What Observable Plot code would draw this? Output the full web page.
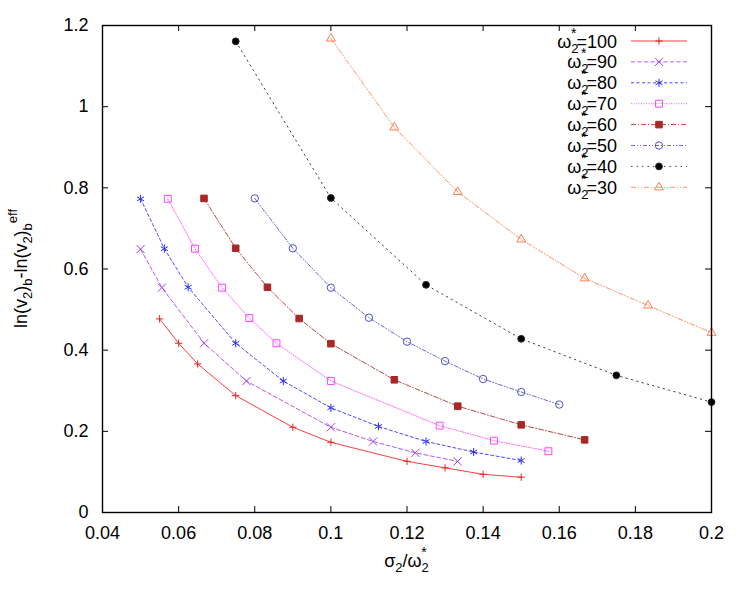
<!DOCTYPE html>
<html>
<head>
<meta charset="utf-8">
<script src="https://cdn.jsdelivr.net/npm/d3@7"></script>
<script src="https://cdn.jsdelivr.net/npm/@observablehq/plot@0.6"></script>
<style>
  html, body { margin: 0; padding: 0; background: #fff; }
  #chart { width: 750px; height: 600px; }
</style>
</head>
<body>
<div id="chart"></div>
<script>
// ---- tick values and labels ----
const xTicks = [0.04, 0.06, 0.08, 0.1, 0.12, 0.14, 0.16, 0.18, 0.2];
const xTickLabels = ["0.04", "0.06", "0.08", "0.1", "0.12", "0.14", "0.16", "0.18", "0.2"];
const yTicks = [0, 0.2, 0.4, 0.6, 0.8, 1, 1.2];
const yTickLabels = ["0", "0.2", "0.4", "0.6", "0.8", "1", "1.2"];

// ---- series (omega_2^* values) ----
const omegas = [100, 90, 80, 70, 60, 50, 40, 30];

const x100 = [0.055, 0.06, 0.065, 0.075, 0.09, 0.1, 0.12, 0.13, 0.14, 0.15];
const y100 = [0.477, 0.417, 0.366, 0.288, 0.210, 0.173, 0.126, 0.110, 0.094, 0.087];

const x90 = [0.05, 0.0556, 0.0667, 0.0778, 0.1, 0.1111, 0.1222, 0.1333];
const y90 = [0.649, 0.554, 0.417, 0.324, 0.210, 0.175, 0.147, 0.126];

const x80 = [0.05, 0.05625, 0.0625, 0.075, 0.0875, 0.1, 0.1125, 0.125, 0.1375, 0.15];
const y80 = [0.773, 0.650, 0.555, 0.417, 0.324, 0.258, 0.212, 0.175, 0.149, 0.128];

const x70 = [0.05714, 0.06429, 0.07143, 0.07857, 0.08571, 0.1, 0.12857, 0.14286, 0.15714];
const y70 = [0.773, 0.650, 0.554, 0.479, 0.417, 0.324, 0.214, 0.177, 0.151];

const x60 = [0.06667, 0.075, 0.08333, 0.09167, 0.1, 0.11667, 0.13333, 0.15, 0.16667];
const y60 = [0.774, 0.651, 0.555, 0.478, 0.416, 0.327, 0.262, 0.216, 0.179];

const x50 = [0.08, 0.09, 0.1, 0.11, 0.12, 0.13, 0.14, 0.15, 0.16];
const y50 = [0.774, 0.651, 0.554, 0.480, 0.421, 0.373, 0.329, 0.297, 0.266];

const x40 = [0.075, 0.1, 0.125, 0.15, 0.175, 0.2];
const y40 = [1.161, 0.775, 0.561, 0.428, 0.338, 0.272];

const x30 = [0.1, 0.11667, 0.13333, 0.15, 0.16667, 0.18333, 0.2];
const y30 = [1.168, 0.949, 0.790, 0.673, 0.577, 0.510, 0.443];

const seriesX = [x100, x90, x80, x70, x60, x50, x40, x30];
const seriesY = [y100, y90, y80, y70, y60, y50, y40, y30];

// ---- styles (kept apart from the data) ----
const styles = [
  {color: "#f02020", dash: null,            symbol: "plus",     r: 2.5, fill: "none"},
  {color: "#a23cf0", dash: "4,2.5",         symbol: "times",    r: 3.8, fill: "none"},
  {color: "#2a2aff", dash: "3,2.5",         symbol: "asterisk", r: 3.8, fill: "none"},
  {color: "#ff44ff", dash: "1,1.5",         symbol: "square",   r: 3.9, fill: "none"},
  {color: "#a82828", dash: "5,2,1,2",       symbol: "square",   r: 3.7, fill: "#a82828"},
  {color: "#5050c8", dash: "4,2,1,2,1,2",   symbol: "circle",   r: 3.7, fill: "none"},
  {color: "#222222", dash: "1.5,4",         symbol: "circle",   r: 3.4, fill: "#000"},
  {color: "#ff7f50", dash: "5,2,1,2,1,2",   symbol: "triangle", r: 3.3, fill: "none"}
];

const rows = omegas.map((w, s) => seriesX[s].map((x, i) => ({omega: w, s, x, y: seriesY[s][i]})));

const fmt = (ticks, labels) => d => labels[ticks.findIndex(t => Math.abs(t - d) < 1e-9)];

const W = 750, H = 600, mL = 102, mR = 39, mT = 25, mB = 88;
const fw = W - mL - mR, fh = H - mT - mB, tl = 6;

const lineMarks = rows.map((data, s) => Plot.line(data, {
  x: "x", y: "y", stroke: styles[s].color, strokeWidth: 1,
  strokeDasharray: styles[s].dash, strokeOpacity: 0.85
}));
const dotMarks = rows.map((data, s) => Plot.dot(data, {
  x: "x", y: "y", symbol: () => styles[s].symbol, r: styles[s].r,
  stroke: styles[s].color, fill: styles[s].fill, strokeWidth: 1
}));

const plot = Plot.plot({
  width: W, height: H,
  marginLeft: mL, marginRight: mR, marginTop: mT, marginBottom: mB,
  x: {domain: [0.04, 0.2]},
  y: {domain: [0, 1.2]},
  style: {fontFamily: "'Liberation Sans', Arial, sans-serif", fontSize: "18px", background: "#fff", color: "#000"},
  marks: [
    Plot.axisX({ticks: xTicks, tickFormat: fmt(xTicks, xTickLabels), tickSize: 0, tickPadding: 14, label: null, fontSize: 18}),
    Plot.axisY({ticks: yTicks, tickFormat: fmt(yTicks, yTickLabels), tickSize: 0, tickPadding: 14, label: null, fontSize: 18}),
    Plot.tickX(xTicks, {x: d => d, insetTop: fh - tl, stroke: "#000"}),
    Plot.tickX(xTicks, {x: d => d, insetBottom: fh - tl, stroke: "#000"}),
    Plot.tickY(yTicks, {y: d => d, insetRight: fw - tl, stroke: "#000"}),
    Plot.tickY(yTicks, {y: d => d, insetLeft: fw - tl, stroke: "#000"}),
    ...lineMarks,
    ...dotMarks,
    Plot.frame({stroke: "#000", strokeWidth: 1.4})
  ]
});

document.getElementById("chart").appendChild(plot);

// ---- axis titles and legend drawn into the same SVG ----
const svg = d3.select(plot);
const symbolTypes = {plus: d3.symbolPlus, times: d3.symbolTimes, asterisk: d3.symbolAsterisk,
                     square: d3.symbolSquare, circle: d3.symbolCircle, triangle: d3.symbolTriangle};

// x title: sigma_2 / omega_2^*
const xt = svg.append("text").attr("x", mL + fw / 2).attr("y", 567)
  .attr("text-anchor", "middle").attr("font-size", 18);
xt.append("tspan").text("σ");
xt.append("tspan").attr("dy", 5).attr("font-size", 13).text("2");
xt.append("tspan").attr("dy", -5).text("/ω");
xt.append("tspan").attr("dy", 5).attr("font-size", 13).text("2");
xt.append("tspan").attr("dx", -7.5).attr("dy", -15).attr("font-size", 14).text("*");

// y title: ln(v_2)_b - ln(v_2)_b^eff
const yt = svg.append("text").attr("transform", `translate(27,${mT + fh / 2}) rotate(-90)`)
  .attr("text-anchor", "middle").attr("font-size", 18);
yt.append("tspan").text("ln(v");
yt.append("tspan").attr("dy", 5).attr("font-size", 13).text("2");
yt.append("tspan").attr("dy", -5).text(")");
yt.append("tspan").attr("dy", 5).attr("font-size", 13).text("b");
yt.append("tspan").attr("dy", -5).text("-ln(v");
yt.append("tspan").attr("dy", 5).attr("font-size", 13).text("2");
yt.append("tspan").attr("dy", -5).text(")");
yt.append("tspan").attr("dy", 5).attr("font-size", 13).text("b");
yt.append("tspan").attr("dy", -15).attr("font-size", 13).text("eff");

// legend
const lg = svg.append("g");
omegas.forEach((w, s) => {
  const cy = 41 + s * 20.9;
  const t = lg.append("text").attr("x", 617).attr("y", cy + 6.5)
    .attr("text-anchor", "end").attr("font-size", 18);
  t.append("tspan").text("ω");
  t.append("tspan").attr("dy", 5).attr("font-size", 13).text("2");
  t.append("tspan").attr("dx", -7.5).attr("dy", -15).attr("font-size", 14).text("*");
  t.append("tspan").attr("dy", 10).text("=" + w);
  lg.append("line").attr("x1", 631).attr("x2", 687).attr("y1", cy).attr("y2", cy)
    .attr("stroke", styles[s].color).attr("stroke-width", 1)
    .attr("stroke-dasharray", styles[s].dash).attr("stroke-opacity", 0.85);
  const r = styles[s].r;
  lg.append("path").attr("transform", `translate(659,${cy})`)
    .attr("d", d3.symbol(symbolTypes[styles[s].symbol], Math.PI * r * r)())
    .attr("stroke", styles[s].color).attr("fill", styles[s].fill).attr("stroke-width", 1);
});
</script>
</body>
</html>
